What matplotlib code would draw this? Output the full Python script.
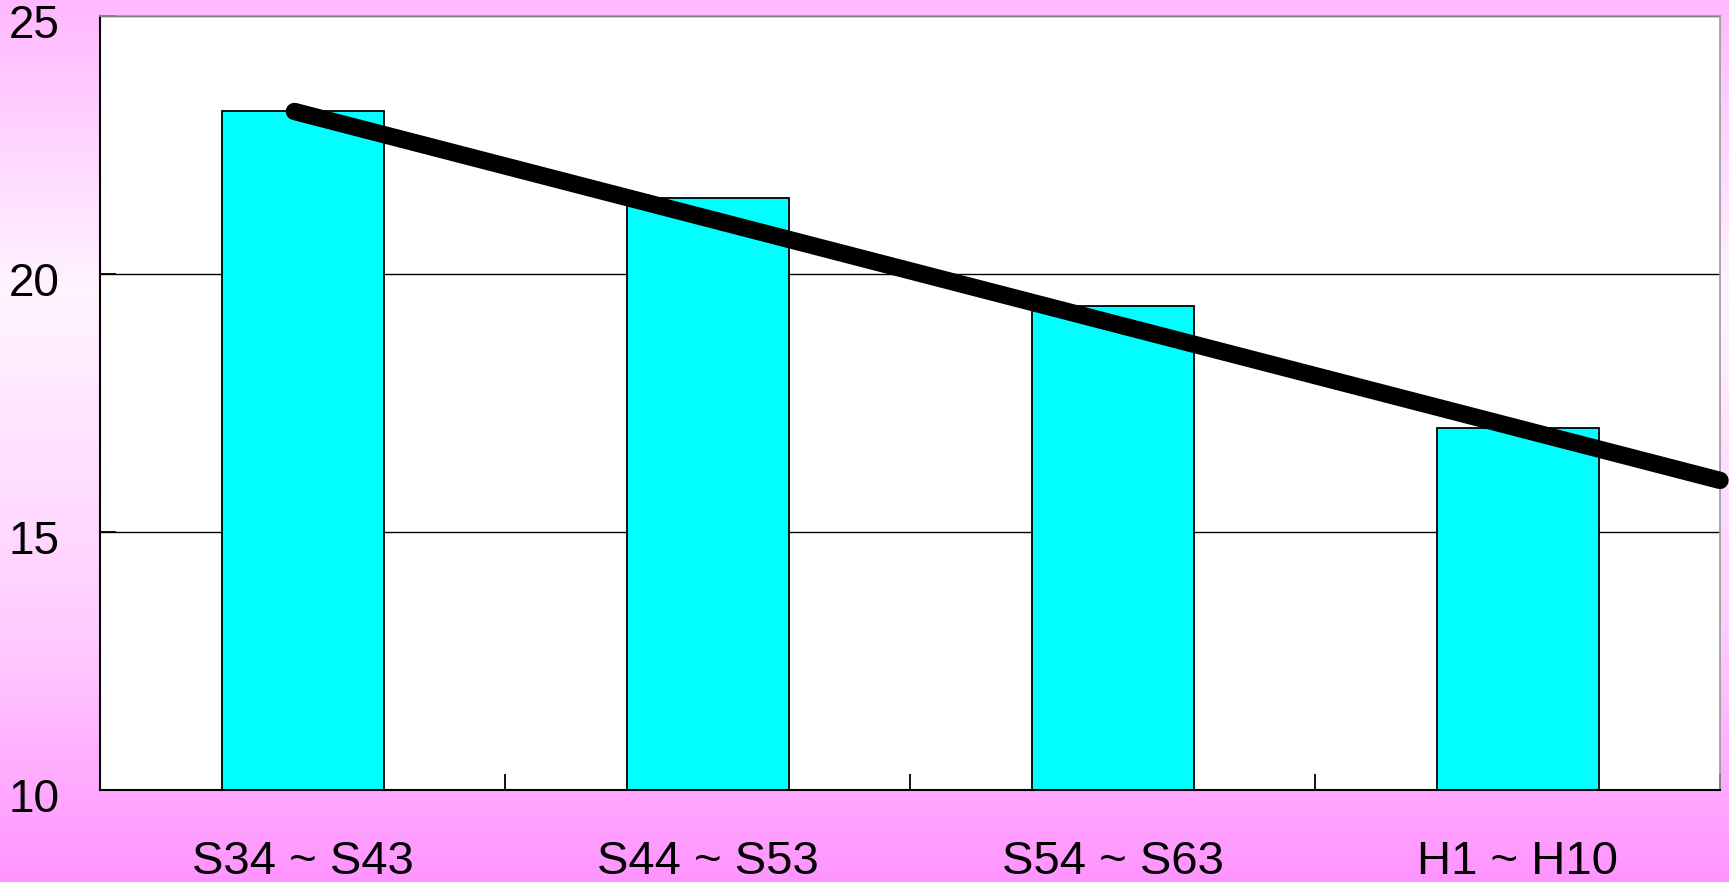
import matplotlib
matplotlib.use('Agg')
import matplotlib.pyplot as plt
import numpy as np
from matplotlib.colors import LinearSegmentedColormap
from matplotlib.transforms import ScaledTranslation

# data
periods = ['S34 ~ S43', 'S44 ~ S53', 'S54 ~ S63', 'H1 ~ H10']
values = [23.15, 21.47, 19.38, 17.01]
trend_x = [0.48, 4.0]
trend_y = [23.15, 16.0]

plt.rcParams['font.family'] = ['Liberation Sans', 'DejaVu Sans']

fig = plt.figure(figsize=(17.29, 8.82), dpi=100)

# pink vertical gradient behind everything
bg = fig.add_axes([0, 0, 1, 1], zorder=-10)
grad_cmap = LinearSegmentedColormap.from_list(
    'pinkfade',
    [(0.0, '#ffb8ff'), (0.33, '#fff4ff'), (0.72, '#ffccff'), (1.0, '#ff94ff')])
bg.imshow(np.linspace(0, 1, 256).reshape(-1, 1), aspect='auto', cmap=grad_cmap,
          extent=[0, 1, 0, 1], origin='upper')
bg.axis('off')

W, H = 1729, 882
ax = fig.add_axes([100 / W, 1 - 790 / H, 1620 / W, (790 - 16) / H])
ax.set_facecolor('white')

x = np.arange(len(periods)) + 0.5
ax.bar(x, values, width=0.4, color='#00ffff', edgecolor='black', linewidth=1.3, zorder=2)
ax.plot(trend_x, trend_y, color='black', lw=12.5, solid_capstyle='round', zorder=3,
        clip_on=False)

ax.set_xlim(0, 4)
ax.set_ylim(10, 25)
ax.set_yticks([10, 15, 20, 25])
ax.yaxis.grid(True, color='black', lw=1.0, zorder=0)
ax.set_axisbelow(True)

ax.set_xticks([0, 1, 2, 3, 4])
ax.set_xticklabels([])
ax.set_xticks(x, minor=True)
ax.set_xticklabels(periods, minor=True, fontsize=34)
ax.tick_params(axis='x', which='minor', length=0, pad=36)
ax.tick_params(axis='x', which='major', direction='in', length=11.5, width=1.3)
ax.tick_params(axis='y', direction='in', length=11.5, width=1.3, labelsize=33, pad=29)

# y labels sit a few pixels below their gridline in the original
shift = ScaledTranslation(0, -5 / 100, fig.dpi_scale_trans)
for lab in ax.get_yticklabels():
    lab.set_transform(lab.get_transform() + shift)

for side in ['left', 'bottom']:
    ax.spines[side].set_color('black')
    ax.spines[side].set_linewidth(1.5)
for side in ['top', 'right']:
    ax.spines[side].set_color('#999999')
    ax.spines[side].set_linewidth(1.2)

fig.savefig('out.png', dpi=100)
